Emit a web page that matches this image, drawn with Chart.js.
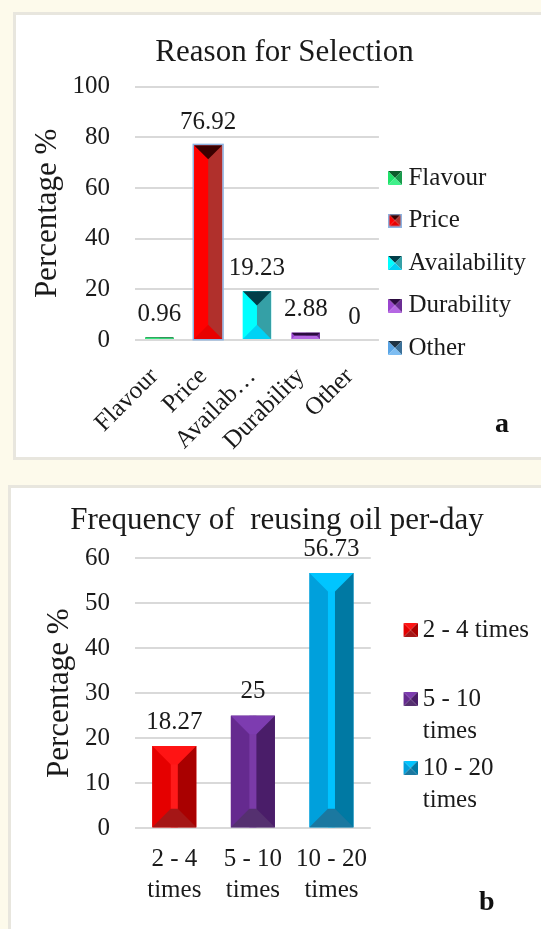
<!DOCTYPE html>
<html>
<head>
<meta charset="utf-8">
<title>Reason for Selection / Frequency of reusing oil</title>
<script src="https://cdn.jsdelivr.net/npm/chart.js@4.4.1/dist/chart.umd.min.js"></script>
<style>
  html, body { margin: 0; padding: 0; width: 541px; height: 929px; overflow: hidden; background: #fdfaeb; }
  .panel { position: absolute; background: #fff; border: 3px solid #e8e6de; box-sizing: border-box; }
  #panelA { left: 13px; top: 12px; width: 545px; height: 448px; }
  #panelB { left: 8px; top: 485px; width: 550px; height: 460px; }
  canvas { position: absolute; left: 0; }
  #chartA { top: 0; }
  #chartB { top: 470px; }
  .tag { position: absolute; font: bold 28px 'Liberation Serif', 'Times New Roman', serif; line-height: 28px; color: #111; }
</style>
</head>
<body>
<div class="panel" id="panelA"></div>
<div class="panel" id="panelB"></div>
<canvas id="chartA" width="541" height="510"></canvas>
<canvas id="chartB" width="541" height="478"></canvas>
<div class="tag" style="left:495px; top:409px;">a</div>
<div class="tag" style="left:479px; top:887px;">b</div>

<script>
// ============================================================
// DATA
// ============================================================
// (a) Reason for Selection
const reasonCategories = ['Flavour', 'Price', 'Availability', 'Durability', 'Other'];
const reasonTickLabels = ['Flavour', 'Price', 'Availab\u2026', 'Durability', 'Other'];
const reasonValues = [0.96, 76.92, 19.23, 2.88, 0];
const reasonYTicks = [0, 20, 40, 60, 80, 100];

// (b) Frequency of reusing oil per-day
const freqCategories = ['2 - 4 times', '5 - 10 times', '10 - 20 times'];
const freqTickLabels = [['2 - 4', 'times'], ['5 - 10', 'times'], ['10 - 20', 'times']];
const freqLegendLines = [['2 - 4 times', ''], ['5 - 10', 'times'], ['10 - 20', 'times']];
const freqValues = [18.27, 25, 56.73];
const freqYTicks = [0, 10, 20, 30, 40, 50, 60];

// ============================================================
// STYLES (bevelled bar faces)
// ============================================================
const reasonFaces = [
    { top: '#0d5c2c', left: '#1ee36a', right: '#199a4c', bottom: '#3ff08a' },
    { top: '#3a0000', left: '#ff0000', right: '#b0302c', bottom: '#e80000', outline: '#8db4e2' },
    { top: '#013e48', left: '#00ffff', right: '#35a0a6', bottom: '#00d2f5' },
    { top: '#2b0b3f', left: '#9b45cf', right: '#6b2d93', bottom: '#b567e3' },
    { top: '#1f3344', left: '#5aa5e6', right: '#3b7098', bottom: '#7dbdf2' }
];
const freqFaces = [
    { top: '#ff1414', left: '#e50000', strip: '#ff1a1a', right: '#a90000', bottom: '#a51616' },
    { top: '#7d3cb0', left: '#652a8f', strip: '#7a3aa7', right: '#4a1d69', bottom: '#553070' },
    { top: '#00c5ff', left: '#00a0dc', strip: '#00c2ff', right: '#0079a3', bottom: '#1b78a0' }
];

const TEXT = '#1a1a1a';
const SERIF = "'Liberation Serif', 'Times New Roman', serif";
const FS = 25;  // body text size
Chart.defaults.font.family = SERIF;
Chart.defaults.color = TEXT;

// ============================================================
// HELPERS
// ============================================================
function fillPoly(ctx, pts, color) {
    ctx.beginPath();
    ctx.moveTo(pts[0][0], pts[0][1]);
    for (let i = 1; i < pts.length; i++) ctx.lineTo(pts[i][0], pts[i][1]);
    ctx.closePath();
    ctx.fillStyle = color;
    ctx.fill();
}

function drawFacets(ctx, bar, f, stripRatio) {
    const w = bar.width, cx = bar.x;
    const l = cx - w / 2, r = cx + w / 2, t = bar.y, b = bar.base;
    const s = w * stripRatio;
    const d = Math.min((w - s) / 2, (b - t) / 2);
    fillPoly(ctx, [[l, t], [cx, t], [cx, b], [l, b]], f.left);
    fillPoly(ctx, [[cx, t], [r, t], [r, b], [cx, b]], f.right);
    if (s > 0) fillPoly(ctx, [[cx - s / 2, t], [cx + s / 2, t], [cx + s / 2, b], [cx - s / 2, b]], f.strip);
    fillPoly(ctx, [[l, t], [r, t], [r - d, t + d], [l + d, t + d]], f.top);
    fillPoly(ctx, [[l, b], [r, b], [r - d, b - d], [l + d, b - d]], f.bottom);
    if (f.outline) {
        ctx.strokeStyle = f.outline;
        ctx.lineWidth = 1.5;
        ctx.strokeRect(l - 0.75, t - 0.75, w + 1.5, b - t + 1.5);
    }
}

// legend marker: small pyramid square, shifted right by `shift` px inside a wider canvas
function makeIcon(f, shift) {
    const size = 14, m = size / 2, o = 2 * shift;
    const c = document.createElement('canvas');
    c.width = size + o;
    c.height = size;
    const g = c.getContext('2d');
    fillPoly(g, [[o, 0], [o + size, 0], [o + m, m]], f.top);
    fillPoly(g, [[o, 0], [o, size], [o + m, m]], f.left);
    fillPoly(g, [[o + size, 0], [o + size, size], [o + m, m]], f.right);
    fillPoly(g, [[o, size], [o + size, size], [o + m, m]], f.bottom);
    if (f.outline) {
        g.strokeStyle = f.outline;
        g.lineWidth = 1.5;
        g.strokeRect(o + 0.75, 0.75, size - 1.5, size - 1.5);
    }
    return c;
}

// bevelled faces + value labels above each bar
const facetPlugin = {
    id: 'facets',
    afterDatasetsDraw(chart, args, opts) {
        const ctx = chart.ctx;
        const values = chart.data.datasets[0].data;
        chart.getDatasetMeta(0).data.forEach((bar, i) => {
            ctx.save();
            if (bar.base - bar.y > 0.5) drawFacets(ctx, bar, opts.faces[i], opts.strip);
            ctx.font = FS + 'px ' + SERIF;
            ctx.fillStyle = TEXT;
            ctx.textAlign = 'center';
            ctx.textBaseline = 'middle';
            ctx.fillText(String(values[i]), bar.x, bar.y - opts.labelGap);
            ctx.restore();
        });
    }
};

function legendItems(lines, faces, shift) {
    return lines.map((text, i) => ({
        text: text,
        pointStyle: makeIcon(faces[i], shift),
        fillStyle: faces[i].left,
        strokeStyle: 'rgba(0,0,0,0)',
        lineWidth: 0,
        hidden: false,
        index: i,
        datasetIndex: 0,
        fontColor: TEXT
    }));
}

// ============================================================
// CHART A - Reason for Selection
// ============================================================
new Chart(document.getElementById('chartA').getContext('2d'), {
    type: 'bar',
    data: {
        labels: reasonCategories,
        datasets: [{
            data: reasonValues,
            backgroundColor: reasonFaces.map(f => f.left),
            borderWidth: 0,
            categoryPercentage: 1,
            barPercentage: 0.58
        }]
    },
    plugins: [facetPlugin],
    options: {
        responsive: false,
        animation: false,
        events: [],
        layout: { padding: { left: 33, right: 5, top: 20, bottom: 1.5 } },
        plugins: {
            title: {
                display: true,
                text: 'Reason for Selection',
                font: { size: 31, weight: 'normal', lineHeight: '36px' },
                color: TEXT,
                padding: { top: 14.5, bottom: 16.2 }
            },
            legend: {
                position: 'right',
                maxWidth: 300,
                labels: {
                    usePointStyle: true,
                    pointStyleWidth: 2,
                    padding: 15,
                    color: TEXT,
                    font: { size: FS, lineHeight: '27.5px' },
                    generateLabels: () => legendItems(reasonCategories.map(c => [c]), reasonFaces, 0)
                }
            },
            tooltip: { enabled: false },
            facets: { faces: reasonFaces, strip: 0, labelGap: 23 }
        },
        scales: {
            x: {
                grid: { display: false, drawTicks: false },
                border: { display: false },
                ticks: {
                    autoSkip: false, minRotation: 45, maxRotation: 45, padding: 22, labelOffset: -5,
                    font: { size: FS }, color: TEXT,
                    callback: (v, i) => reasonTickLabels[i]
                },
                afterFit: s => { s.height = 168.5; }
            },
            y: {
                min: reasonYTicks[0],
                max: reasonYTicks[reasonYTicks.length - 1],
                ticks: { stepSize: reasonYTicks[1] - reasonYTicks[0], padding: 25, font: { size: FS }, color: TEXT },
                grid: { color: '#d9d9d9', lineWidth: 2, drawTicks: false },
                border: { display: false },
                title: { display: true, text: 'Percentage %', font: { size: 31, lineHeight: '30px' }, padding: 0, color: TEXT },
                afterFit: s => { s.width = 102; }
            }
        }
    }
});

// ============================================================
// CHART B - Frequency of reusing oil per-day
// ============================================================
new Chart(document.getElementById('chartB').getContext('2d'), {
    type: 'bar',
    data: {
        labels: freqCategories,
        datasets: [{
            data: freqValues,
            backgroundColor: freqFaces.map(f => f.left),
            borderWidth: 0,
            categoryPercentage: 1,
            barPercentage: 0.56
        }]
    },
    plugins: [facetPlugin],
    options: {
        responsive: false,
        animation: false,
        events: [],
        layout: { padding: { left: 15, right: 2, top: 20, bottom: 1 } },
        plugins: {
            title: {
                display: true,
                text: 'Frequency of  reusing oil per-day',
                font: { size: 31, weight: 'normal', lineHeight: '36px' },
                color: TEXT,
                padding: { top: 13, bottom: 19.3 }
            },
            legend: {
                position: 'right',
                maxWidth: 300,
                labels: {
                    usePointStyle: true,
                    pointStyleWidth: 34.5,
                    padding: 5,
                    color: TEXT,
                    font: { size: FS, lineHeight: '32px' },
                    generateLabels: () => legendItems(freqLegendLines, freqFaces, 17.5)
                }
            },
            tooltip: { enabled: false },
            facets: { faces: freqFaces, strip: 0.16, labelGap: 24 }
        },
        scales: {
            x: {
                grid: { display: false, drawTicks: false },
                border: { display: false },
                ticks: {
                    autoSkip: false, minRotation: 0, maxRotation: 0, padding: 15,
                    font: { size: FS, lineHeight: '31.7px' }, color: TEXT,
                    callback: (v, i) => freqTickLabels[i]
                },
                afterFit: s => { s.height = 118.7; }
            },
            y: {
                min: freqYTicks[0],
                max: freqYTicks[freqYTicks.length - 1],
                ticks: { stepSize: freqYTicks[1] - freqYTicks[0], padding: 25, font: { size: FS }, color: TEXT },
                grid: { color: '#d9d9d9', lineWidth: 2, drawTicks: false },
                border: { display: false },
                title: { display: true, text: 'Percentage %', font: { size: 31, lineHeight: '22px' }, padding: { top: 34, bottom: 0 }, color: TEXT },
                afterFit: s => { s.width = 120; }
            }
        }
    }
});
</script>
</body>
</html>
